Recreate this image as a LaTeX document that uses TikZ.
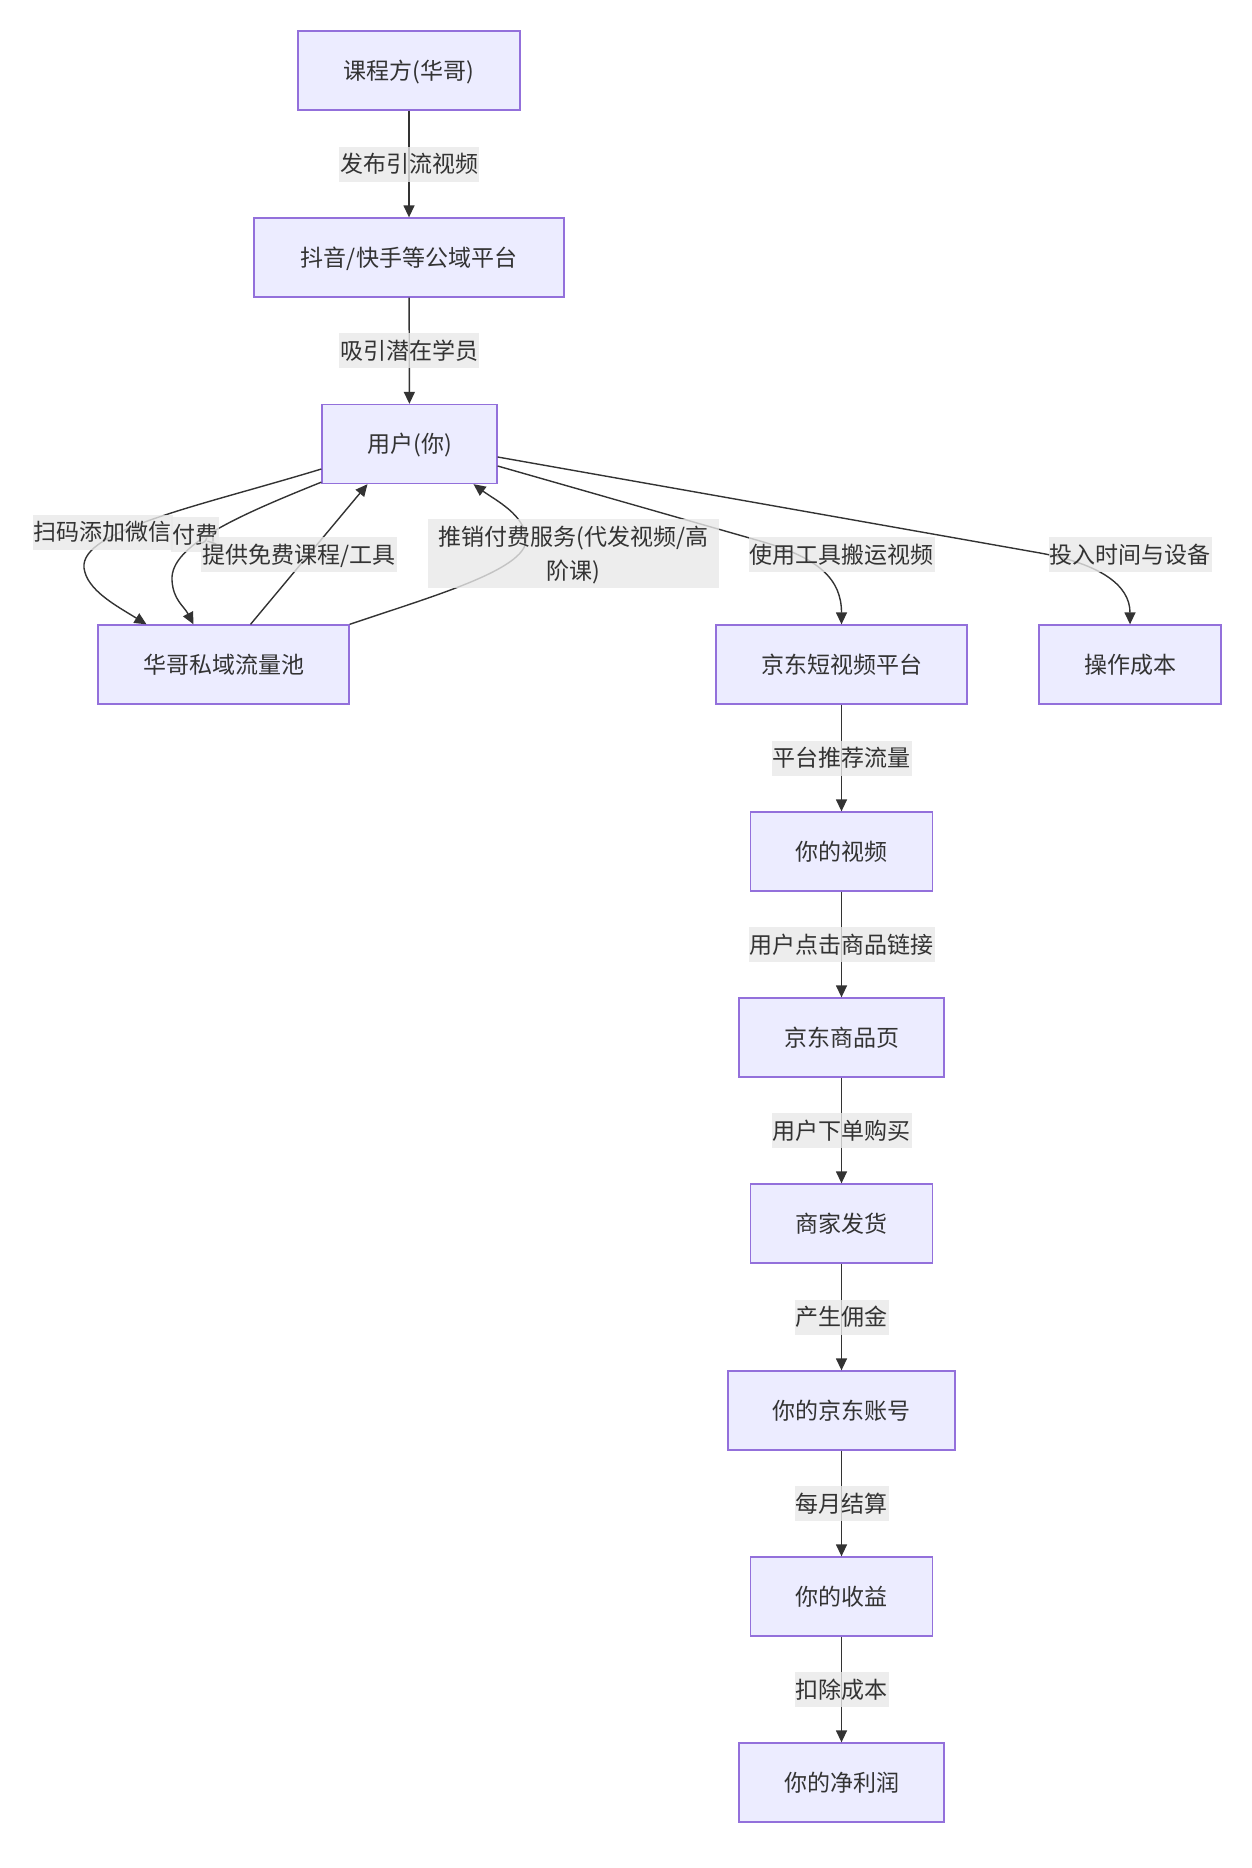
\documentclass[tikz,border=0pt]{standalone}
\usepackage{fontspec}
\setmainfont{Noto Sans CJK SC}
\usetikzlibrary{arrows.meta,calc}
\definecolor{nodefill}{HTML}{ECECFF}
\definecolor{nodeline}{HTML}{9370DB}
\definecolor{ink}{HTML}{333333}
\definecolor{lblfill}{HTML}{E8E8E8}
\begin{document}
\begin{tikzpicture}[x=1pt,y=-1pt,
  txt/.style={text=ink, font=\fontsize{23pt}{34pt}\selectfont, text height=20pt, text depth=3pt},
  box/.style={txt, draw=nodeline, fill=nodefill, line width=1.3pt, minimum height=79pt, inner sep=0pt},
  lbl/.style={txt, fill=lblfill, fill opacity=0.8, text opacity=1, inner xsep=1pt, inner ysep=6pt},
  arr/.style={draw=ink, line width=1.4pt, -{Triangle[length=12pt,width=11pt]}},
]
\useasboundingbox (0,0) rectangle (1252,1868);

% nodes
\node[box, minimum width=222pt] (n1) at (409,70.5) {课程方(华哥)};
\node[box, minimum width=310pt] (n2) at (409,257.5) {抖音/快手等公域平台};
\node[box, minimum width=175pt] (n3) at (409.5,444) {用户(你)};
\node[box, minimum width=251pt] (n4) at (223.5,664.5) {华哥私域流量池};
\node[box, minimum width=251pt] (n5) at (841.5,664.5) {京东短视频平台};
\node[box, minimum width=182pt] (n6) at (1130,664.5) {操作成本};
\node[box, minimum width=182pt] (n7) at (841.5,851.5) {你的视频};
\node[box, minimum width=205pt] (n8) at (841.5,1037.5) {京东商品页};
\node[box, minimum width=182pt] (n9) at (841.5,1223.5) {商家发货};
\node[box, minimum width=227pt] (n10) at (841.5,1410.5) {你的京东账号};
\node[box, minimum width=182pt] (n11) at (841.5,1596.5) {你的收益};
\node[box, minimum width=205pt] (n12) at (841.5,1782.5) {你的净利润};

% straight edges
\draw[arr] (n1) -- node[lbl] (l1) {发布引流视频} (n2);
\draw[arr] (n2) -- node[lbl] (l2) {吸引潜在学员} (n3);
\draw[arr] (n5) -- node[lbl] (l3) {平台推荐流量} (n7);
\draw[arr] (n7) -- node[lbl] (l4) {用户点击商品链接} (n8);
\draw[arr] (n8) -- node[lbl] (l5) {用户下单购买} (n9);
\draw[arr] (n9) -- node[lbl] (l6) {产生佣金} (n10);
\draw[arr] (n10) -- node[lbl] (l7) {每月结算} (n11);
\draw[arr] (n11) -- node[lbl] (l8) {扣除成本} (n12);

% curved edges
\draw[arr] ($(n3.west)+(0,25)$) .. controls (200,506) and (80,530) .. (84,568)
  .. controls (87,590) and (115,605) .. ($(n4.north)+(-77,0)$);
\draw[arr] ($(n3.south west)+(0,-2)$) .. controls (240,515) and (170,545) .. (172,580)
  .. controls (173,600) and (184,606) .. ($(n4.north)+(-30,0)$);
\draw[arr] ($(n4.north)+(27,0)$) -- ($(n3.south)+(-42,0)$);
\draw[arr] (n4.north east) .. controls (430,597) and (526,570) .. (526,540)
  .. controls (526,515) and (495,500) .. ($(n3.south)+(64,0)$);
\draw[arr] ($(n3.east)+(0,22)$) -- (760,541) .. controls (820,558) and (841.5,580) .. (n5.north);
\draw[arr] ($(n3.east)+(0,13)$) -- (1040,553) .. controls (1100,564) and (1130,585) .. (n6.north);

% labels of curved edges
\node[lbl] (lA) at (102.5,532) {扫码添加微信};
\node[lbl] (lB) at (195,534.5) {付费};
\node[lbl] (lC) at (299,554.5) {提供免费课程/工具};
\node[lbl, align=center, text width=289pt, text height=20pt, text depth=37pt] (lD) at (573.5,553.5) {推销付费服务(代发视频/高\\阶课)};
\node[lbl] (lE) at (841.5,554.5) {使用工具搬运视频};
\node[lbl] (lF) at (1130,554.5) {投入时间与设备};
\end{tikzpicture}
\end{document}
